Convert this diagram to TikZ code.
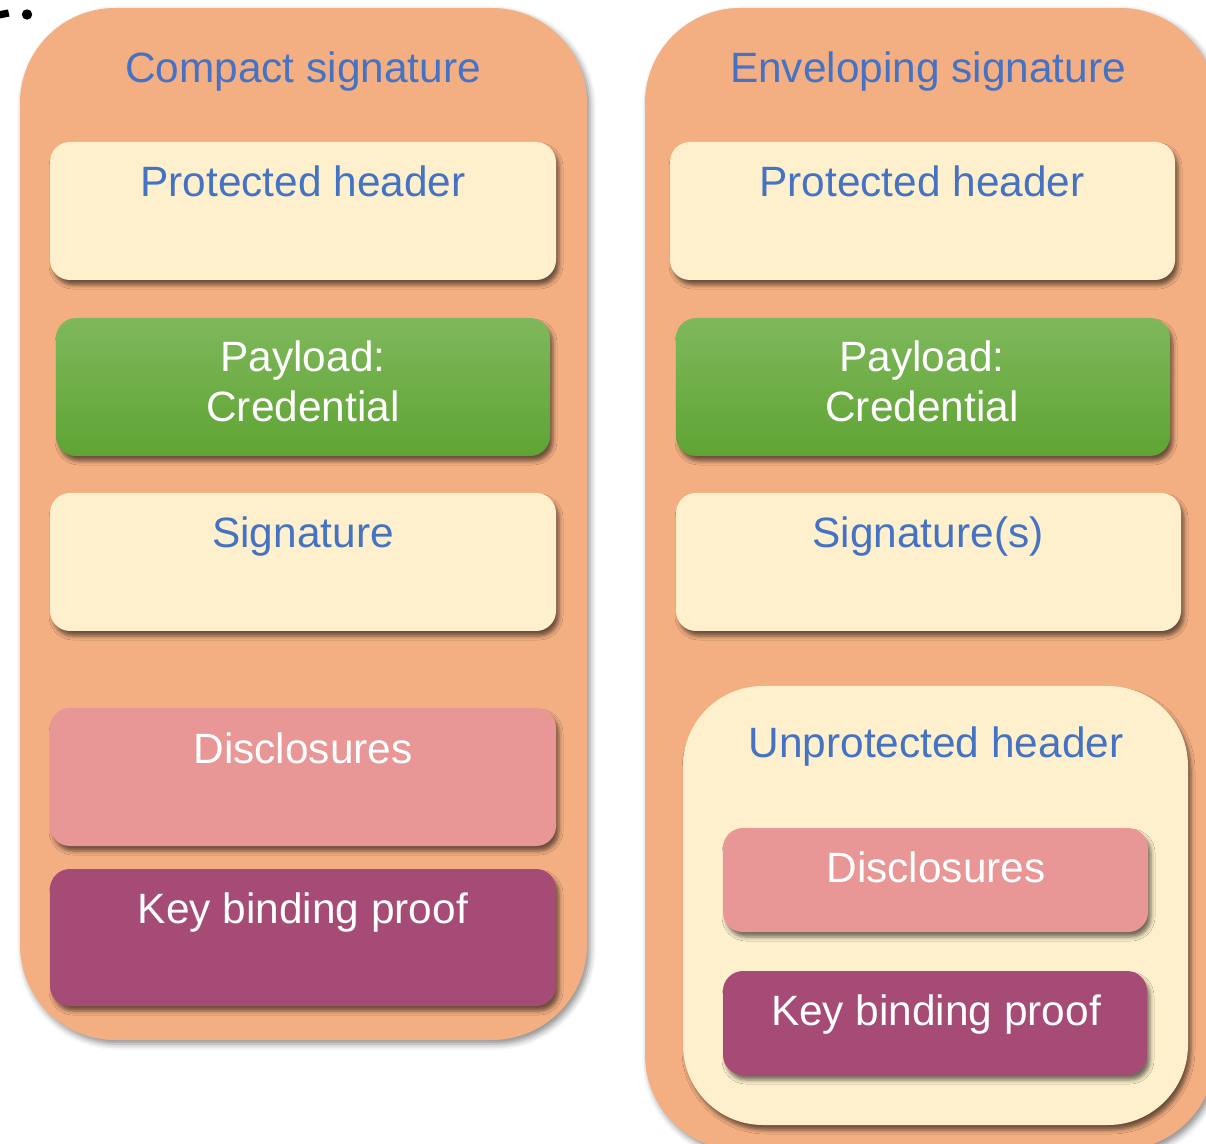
\documentclass[tikz,border=0pt]{standalone}
\usepackage{fontspec}
\setmainfont{Liberation Sans}
\usetikzlibrary{fit,shadows.blur}

\definecolor{panelorange}{HTML}{F3AF82}
\definecolor{creamfill}{HTML}{FEF0CC}
\definecolor{greentop}{HTML}{7FB85C}
\definecolor{greenbot}{HTML}{5FA433}
\definecolor{pinkfill}{HTML}{E89696}
\definecolor{plumfill}{HTML}{A64B76}
\definecolor{titleblue}{HTML}{4472C4}

\tikzset{
  panel/.style={fill=panelorange, rounded corners=47.5pt, inner sep=0pt,
    blur shadow={shadow xshift=1.5pt, shadow yshift=-2pt, shadow blur radius=3pt, shadow opacity=45}},
  part/.style={rounded corners=10pt, inner sep=0pt,
    blur shadow={shadow xshift=1.5pt, shadow yshift=-2.5pt, shadow blur radius=2pt, shadow opacity=55}},
  cream/.style={part, fill=creamfill},
  payload/.style={part, top color=greentop, bottom color=greenbot},
  pinkbox/.style={part, fill=pinkfill},
  plumbox/.style={part, fill=plumfill},
  lbl/.style={anchor=base, inner sep=0pt, font=\fontsize{21.2}{25}\selectfont},
  bluelbl/.style={lbl, text=titleblue},
  whitelbl/.style={lbl, text=white},
}

\begin{document}
\begin{tikzpicture}[x=0.5pt, y=-0.5pt]
\useasboundingbox (0,0) rectangle (1206,1144);

% stray marks at the top-left edge
\fill[black] (0,11) -- (8,9.5) -- (9.5,16.5) -- (0,18.5) -- cycle;
\fill[black] (27,14.5) circle [radius=2.6pt];

% ---------- compact signature ----------
\node[panel, fit={(20,8) (587,1040)}] (outerL) {};
\node[bluelbl] (tL) at (303,83) {Compact signature};

\node[cream, fit={(50,142) (556,280)}] (phL) {};
\node[bluelbl] (phLt) at (303,197) {Protected header};

\node[payload, fit={(56,318) (550,456)}] (plL) {};
\node[whitelbl] (plLa) at (303,372) {Payload:};
\node[whitelbl] (plLb) at (303,422) {Credential};

\node[cream, fit={(50,493) (556,631)}] (sgL) {};
\node[bluelbl] (sgLt) at (303,548) {Signature};

\node[pinkbox, fit={(50,708) (556,846)}] (dsL) {};
\node[whitelbl] (dsLt) at (303,763) {Disclosures};

\node[plumbox, fit={(50,869) (556,1006)}] (kbL) {};
\node[whitelbl] (kbLt) at (303,923) {Key binding proof};

% ---------- enveloping signature ----------
\node[panel, fit={(645,8) (1215,1150)}] (outerR) {};
\node[bluelbl] (tR) at (928,83) {Enveloping signature};

\node[cream, fit={(670,142) (1175,280)}] (phR) {};
\node[bluelbl] (phRt) at (922,197) {Protected header};

\node[payload, fit={(676,318) (1170,456)}] (plR) {};
\node[whitelbl] (plRa) at (922,372) {Payload:};
\node[whitelbl] (plRb) at (922,422) {Credential};

\node[cream, fit={(676,493) (1181,631)}] (sgR) {};
\node[bluelbl] (sgRt) at (928,548) {Signature(s)};

\node[cream, rounded corners=40pt, fit={(683,686) (1188,1125)}] (upR) {};
\node[bluelbl] (upRt) at (936,757) {Unprotected header};

\node[pinkbox, fit={(723,828) (1148,932)}] (dsR) {};
\node[whitelbl] (dsRt) at (936,882) {Disclosures};

\node[plumbox, fit={(723,971) (1147,1075)}] (kbR) {};
\node[whitelbl] (kbRt) at (936,1025) {Key binding proof};
\end{tikzpicture}
\end{document}
